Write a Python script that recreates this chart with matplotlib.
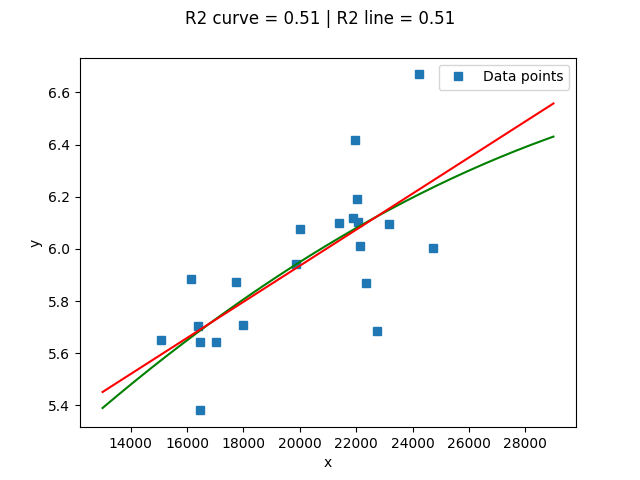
import numpy as np
import matplotlib
matplotlib.use("Agg")
import matplotlib.pyplot as plt

x_data = [15057, 16125, 16374, 16445, 16445, 17014, 17726, 17975, 19861, 20003,
          21391, 21890, 21961, 22032, 22068, 22139, 22353, 22744, 23171, 24239, 24737]
y_data = [5.649, 5.883, 5.703, 5.642, 5.381, 5.642, 5.875, 5.710, 5.944, 6.075,
          6.100, 6.120, 6.416, 6.190, 6.105, 6.013, 5.868, 5.684, 6.094, 6.669, 6.002]

x_range = [13000, 29000]

x = np.array(x_data, dtype=float)
y = np.array(y_data, dtype=float)

line_coef = np.polyfit(x, y, 1)
curve_coef = np.polyfit(x, y, 2)

xs = np.linspace(x_range[0], x_range[1], 200)

fig, ax = plt.subplots(figsize=(6.4, 4.8), dpi=100)
ax.plot(x, y, 's', label='Data points')
ax.plot(xs, np.polyval(curve_coef, xs), color='green')
ax.plot(xs, np.polyval(line_coef, xs), color='red')
ax.set_xlabel('x')
ax.set_ylabel('y')
ax.set_xticks([14000, 16000, 18000, 20000, 22000, 24000, 26000, 28000])
ax.legend(loc='upper right')
fig.suptitle('R2 curve = 0.51 | R2 line = 0.51')
fig.savefig('out.png', dpi=100)
